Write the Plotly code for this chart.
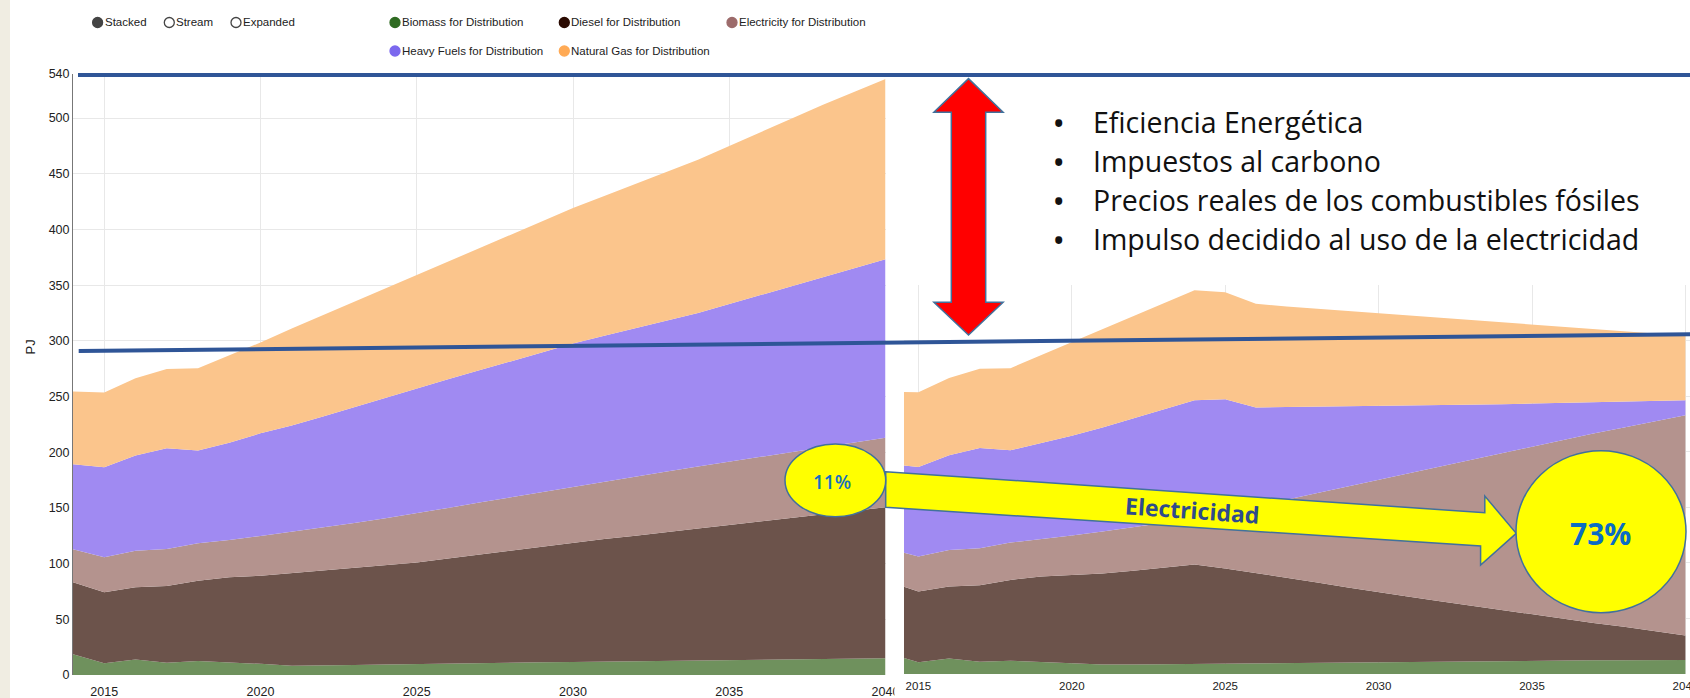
import plotly.graph_objects as go

W, H = 1690, 698

years = list(range(2014, 2041))

# ---- Left chart (reference scenario), PJ ----
bio_L = [18.6, 10.5, 14.0, 11.0, 12.6, 11.5, 10.0, 8.4, 8.5, 9.0, 9.5, 10.0, 10.0, 10.5,
         11.0, 11.5, 11.7, 12.0, 12.5, 13.0, 13.0, 13.5, 13.5, 14.0, 14.5, 15.0, 15.0]
diesel_L = [64.6, 63.8, 64.8, 68.9, 72.1, 76.2, 79.2, 83.1, 85.0, 87.0, 89.0, 91.0, 94.5, 97.5,
            100.5, 103.5, 107.1, 110.0, 112.5, 115.5, 118.5, 121.2, 124.5, 127.0, 129.5, 132.5, 135.6]
elec_L = [29.7, 31.4, 32.8, 33.3, 33.6, 33.5, 35.6, 37.0, 39.0, 40.5, 42.3, 44.2, 45.5, 46.8,
          48.0, 49.3, 50.3, 51.6, 53.1, 54.1, 55.6, 56.9, 57.9, 59.2, 60.5, 61.3, 62.5]
heavy_L = [76.3, 80.8, 85.4, 90.4, 83.2, 87.3, 92.2, 95.5, 99.5, 104.0, 108.2, 112.3, 115.5, 118.7,
           122.0, 125.2, 128.4, 130.9, 133.4, 135.4, 137.9, 141.4, 145.1, 148.8, 152.5, 156.2, 160.2]
gas_L = [65.3, 67.1, 69.5, 71.2, 73.9, 78.5, 81.5, 87.0, 91.0, 94.5, 98.0, 102.0, 106.0, 110.0,
         114.0, 118.0, 121.7, 125.5, 129.5, 134.0, 137.6, 142.0, 146.0, 150.5, 155.0, 158.5, 161.7]

# ---- Right chart (policy scenario), PJ ----
bio_R = [18.6, 10.6, 14.0, 11.0, 12.0, 11.0, 9.6, 8.5, 8.5, 8.8, 9.0, 9.3, 9.5, 9.8,
         10.0, 10.3, 10.8, 11.0, 11.3, 11.5, 11.8, 12.0, 12.2, 12.3, 12.4, 12.5, 12.6]
diesel_R = [64.6, 63.7, 64.8, 68.9, 72.7, 76.7, 79.6, 82.0, 84.5, 86.7, 89.5, 85.7, 81.5, 77.2,
            72.5, 67.7, 62.7, 58.5, 54.2, 50.0, 46.2, 42.0, 37.8, 33.7, 30.1, 26.0, 22.0]
elec_R = [29.7, 31.4, 32.8, 33.3, 33.6, 33.5, 35.4, 37.8, 39.0, 40.5, 41.5, 50.0, 60.0, 70.0,
          80.5, 91.0, 101.5, 111.5, 121.5, 131.5, 141.0, 151.0, 161.0, 170.5, 179.5, 189.0, 198.4]
heavy_R = [76.3, 80.8, 85.4, 90.4, 83.2, 86.8, 89.9, 93.7, 98.0, 102.0, 106.5, 102.5, 89.0, 83.5,
           77.8, 72.0, 66.2, 60.7, 55.2, 49.6, 44.0, 38.5, 33.0, 28.1, 23.2, 18.3, 13.5]
gas_R = [65.3, 67.1, 69.5, 71.2, 73.9, 79.0, 84.5, 88.5, 92.0, 96.0, 99.1, 96.3, 93.4, 90.5,
         88.2, 85.5, 83.2, 80.8, 78.3, 75.9, 73.5, 71.0, 68.5, 65.9, 63.3, 60.7, 58.0]

series_names = ["Biomass for Distribution", "Diesel for Distribution", "Electricity for Distribution",
                "Heavy Fuels for Distribution", "Natural Gas for Distribution"]
fill_colors = ["#6f915d", "#6c534b", "#b4938e", "#a08af2", "#fbc58c"]
legend_colors = ["#2f6b22", "#2b0b02", "#9c6b6b", "#7b68ee", "#ffaa55"]

x_ticks = [2015, 2020, 2025, 2030, 2035, 2040]
y_ticks = [0, 50, 100, 150, 200, 250, 300, 350, 400, 450, 500, 540]

bullets = ["Eficiencia Energética", "Impuestos al carbono",
           "Precios reales de los combustibles fósiles", "Impulso decidido al uso de la electricidad"]

SANS = "Liberation Sans, Arial, sans-serif"
CAL = "Open Sans, Lato, sans-serif"


def X(x):
    return x / W


def Y(y):
    return 1 - y / H


fig = go.Figure()
for name, vals, col in zip(series_names, [bio_L, diesel_L, elec_L, heavy_L, gas_L], fill_colors):
    fig.add_trace(go.Scatter(x=years, y=vals, name=name, stackgroup="L", mode="lines",
                             line=dict(width=0, color=col), fillcolor=col,
                             xaxis="x", yaxis="y", showlegend=False))
for name, vals, col in zip(series_names, [bio_R, diesel_R, elec_R, heavy_R, gas_R], fill_colors):
    fig.add_trace(go.Scatter(x=years, y=vals, name=name, stackgroup="R", mode="lines",
                             line=dict(width=0, color=col), fillcolor=col,
                             xaxis="x2", yaxis="y2", showlegend=False))

grid = "#e8e8e8"
fig.update_layout(
    width=W, height=H, margin=dict(l=0, r=0, t=0, b=0, autoexpand=False),
    paper_bgcolor="white", plot_bgcolor="white", showlegend=False,
    xaxis=dict(domain=[X(73), X(885.5)], range=[2014, 2040], tickvals=x_ticks, automargin=False,
               showgrid=True, gridcolor=grid, zeroline=False, showline=False,
               ticks="outside", ticklen=5, tickcolor="rgba(0,0,0,0)", ticklabeloverflow="allow",
               tickfont=dict(family=SANS, size=12.5, color="#222"), anchor="y"),
    yaxis=dict(domain=[Y(675), Y(73.5)], range=[0, 540], tickvals=y_ticks, automargin=False,
               showgrid=True, gridcolor=grid, zeroline=False, showline=True,
               linecolor="#777", linewidth=1, ticks="",
               tickfont=dict(family=SANS, size=12.5, color="#222"), anchor="x"),
    xaxis2=dict(domain=[X(904), 1], range=[2014.53, 2040.15], tickvals=x_ticks, automargin=False,
                showgrid=True, gridcolor=grid, zeroline=False, showline=False,
                ticks="outside", ticklen=1, tickcolor="rgba(0,0,0,0)", ticklabeloverflow="allow",
                tickfont=dict(family=SANS, size=11.5, color="#222"), anchor="y2"),
    yaxis2=dict(domain=[Y(674), Y(285.3)], range=[0, 350], tickvals=[50, 100, 150, 200, 250, 300, 350],
                automargin=False, showgrid=True, gridcolor=grid, zeroline=False, showline=False,
                showticklabels=False, anchor="x2"),
)

shapes = []
shapes.append(dict(type="rect", xref="paper", yref="paper", x0=0, x1=X(10), y0=0, y1=1,
                   fillcolor="#f0ede2", line=dict(width=0), layer="below"))
shapes.append(dict(type="rect", xref="paper", yref="paper", x0=X(894.5), x1=X(904), y0=0, y1=Y(676),
                   fillcolor="white", line=dict(width=0), layer="above"))
blue = "#2f5597"
shapes.append(dict(type="line", xref="paper", yref="paper", x0=X(78), x1=1, y0=Y(75), y1=Y(75),
                   line=dict(color=blue, width=4)))
shapes.append(dict(type="line", xref="paper", yref="paper", x0=X(78.7), x1=1, y0=Y(351), y1=Y(334.3),
                   line=dict(color=blue, width=4)))


def path(pts):
    return "M " + " L ".join(f"{X(a):.5f},{Y(b):.5f}" for a, b in pts) + " Z"


c = 968.5
red_pts = [(c, 78.6), (c + 34.6, 112.2), (c + 17.2, 112.2), (c + 17.2, 302.3), (c + 34.6, 302.3),
           (c, 335), (c - 34.6, 302.3), (c - 17.2, 302.3), (c - 17.2, 112.2), (c - 34.6, 112.2)]
shapes.append(dict(type="path", xref="paper", yref="paper", path=path(red_pts),
                   fillcolor="#ff0000", line=dict(color="#41719c", width=1.5)))

yel_pts = [(885.7, 471.7), (1484.8, 512.7), (1484.8, 496), (1516.2, 533.3), (1480.6, 565),
           (1480.6, 546), (885.7, 507.3)]
shapes.append(dict(type="path", xref="paper", yref="paper", path=path(yel_pts),
                   fillcolor="#ffff00", line=dict(color="#41719c", width=1.5)))

shapes.append(dict(type="circle", xref="paper", yref="paper", x0=X(785), x1=X(885.7), y0=Y(516.7), y1=Y(444),
                   fillcolor="#ffff00", line=dict(color="#41719c", width=1.5)))
shapes.append(dict(type="circle", xref="paper", yref="paper", x0=X(1516), x1=X(1686), y0=Y(612.7), y1=Y(450.7),
                   fillcolor="#ffff00", line=dict(color="#41719c", width=1.5)))

r = 5


def circ(cx, cy, fill, outline):
    return dict(type="circle", xref="paper", yref="paper", x0=X(cx - r), x1=X(cx + r),
                y0=Y(cy + r), y1=Y(cy - r), fillcolor=fill, line=dict(color=outline, width=1.3))


ann = []
controls = [("Stacked", 97.6, True), ("Stream", 169.3, False), ("Expanded", 236, False)]
for label, cx, on in controls:
    shapes.append(circ(cx, 22.5, "#444" if on else "white", "#444"))
    ann.append(dict(x=X(cx + 5), y=Y(22.5), text=label, showarrow=False, xanchor="left", yanchor="middle",
                    font=dict(family=SANS, size=11.5, color="#222")))
leg_pos = [(395, 22.5), (564.3, 22.5), (732, 22.5), (395, 51), (564.3, 51)]
for name, col, (cx, cy) in zip(series_names, legend_colors, leg_pos):
    shapes.append(circ(cx, cy, col, col))
    ann.append(dict(x=X(cx + 5), y=Y(cy), text=name, showarrow=False, xanchor="left", yanchor="middle",
                    font=dict(family=SANS, size=11.5, color="#222")))

ann.append(dict(x=X(20), y=Y(347), text="PJ", showarrow=False, textangle=-90,
                font=dict(family=SANS, size=13, color="#222")))

for i, t in enumerate(bullets):
    yy = 122 + i * 39
    ann.append(dict(x=X(1058), y=Y(yy), text="<b>•</b>", showarrow=False, xanchor="center", yanchor="middle",
                    font=dict(family=CAL, size=25, color="#111")))
    ann.append(dict(x=X(1091), y=Y(yy), text=t, showarrow=False, xanchor="left", yanchor="middle",
                    font=dict(family=CAL, size=28.5, color="#111")))

ann.append(dict(x=X(831.8), y=Y(482.3), text="11%", showarrow=False, xanchor="center", yanchor="middle",
                font=dict(family=CAL, size=19, color="#1570c0", weight=600)))
ann.append(dict(x=X(1600.6), y=Y(533.3), text="<b>73%</b>", showarrow=False, xanchor="center", yanchor="middle",
                font=dict(family=CAL, size=30, color="#0a6cc4")))
ann.append(dict(x=X(1192.5), y=Y(510), text="<b>Electricidad</b>", showarrow=False, textangle=4,
                xanchor="center", yanchor="middle",
                font=dict(family=CAL, size=23, color="#2f4b8c")))

for a in ann:
    a.setdefault("xref", "paper")
    a.setdefault("yref", "paper")

fig.update_layout(shapes=shapes, annotations=ann)
fig.write_html("out.html")
